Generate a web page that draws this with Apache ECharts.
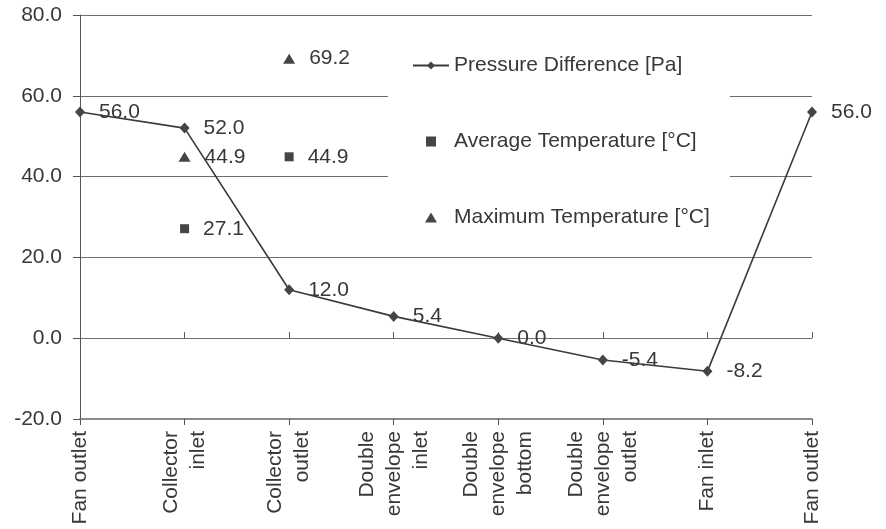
<!DOCTYPE html>
<html>
<head>
<meta charset="utf-8">
<script src="https://cdn.jsdelivr.net/npm/echarts@6/dist/echarts.min.js"></script>
<style>
html,body{margin:0;padding:0;background:#fff;}
#chart{width:886px;height:529px;}
</style>
</head>
<body>
<div id="chart"></div>
<script>
const categories = ['Fan outlet', 'Collector\ninlet', 'Collector\noutlet', 'Double\nenvelope\ninlet', 'Double\nenvelope\nbottom', 'Double\nenvelope\noutlet', 'Fan inlet', 'Fan outlet'];
const pressureDiff = [56.0, 52.0, 12.0, 5.4, 0.0, -5.4, -8.2, 56.0];
const avgTemp = [null, 27.1, 44.9, null, null, null, null, null];
const maxTemp = [null, 44.9, 69.2, null, null, null, null, null];
const yMin = -20, yMax = 80, yStep = 20;

const FONT = 'Liberation Sans';
const TXT = '#383838';
const MARK = '#454545';

const chart = echarts.init(document.getElementById('chart'), null, {renderer: 'canvas'});
const labelCfg = {
  show: true, position: 'right', distance: 14,
  color: TXT, fontSize: 21, fontFamily: FONT,
  formatter: p => (p.value == null ? '' : Number(p.value).toFixed(1))
};
chart.setOption({
  animation: false,
  backgroundColor: '#fff',
  textStyle: {fontFamily: FONT},
  grid: {left: 80, right: 74, top: 15, bottom: 110, containLabel: false},
  xAxis: [{
    type: 'category', data: categories, boundaryGap: false,
    axisLine: {show: true, onZero: false, lineStyle: {color: '#8a8a8a', width: 2}},
    axisTick: {show: true, alignWithLabel: true, length: 6, lineStyle: {color: '#555', width: 1}},
    axisLabel: {rotate: 90, interval: 0, margin: 12, fontSize: 21, lineHeight: 27, color: TXT, fontFamily: FONT},
    splitLine: {show: false}
  }, {
    type: 'category', data: categories, boundaryGap: false, position: 'bottom', gridIndex: 0,
    axisLine: {show: false},
    axisTick: {show: true, inside: true, length: 6, lineStyle: {color: '#555', width: 1}},
    axisLabel: {show: false},
    splitLine: {show: false}
  }],
  yAxis: {
    type: 'value', min: yMin, max: yMax, interval: yStep,
    axisLine: {show: true, onZero: false, lineStyle: {color: '#555', width: 1}},
    axisTick: {show: true, length: 7, lineStyle: {color: '#555'}},
    axisLabel: {margin: 18, fontSize: 21, color: TXT, fontFamily: FONT, formatter: v => v.toFixed(1)},
    splitLine: {show: true, lineStyle: {color: '#6e6e6e', width: 1}}
  },
  legend: {
    orient: 'vertical', left: 388, top: 31,
    padding: [24, 20, 15, 24],
    itemGap: 55, itemWidth: 36, itemHeight: 10,
    backgroundColor: '#fff',
    symbolKeepAspect: true,
    selectedMode: false,
    textStyle: {fontSize: 21, color: TXT, fontFamily: FONT},
    data: [
      {name: 'Pressure Difference [Pa]'},
      {name: 'Average Temperature [\u00B0C]', icon: 'path://M0,0L9,0L9,9L0,9Z'},
      {name: 'Maximum Temperature [\u00B0C]', icon: 'path://M6,0L12,10L0,10Z'}
    ]
  },
  series: [{
    name: 'Pressure Difference [Pa]', type: 'line', data: pressureDiff,
    symbol: 'diamond', symbolSize: [10, 11], showAllSymbol: true,
    lineStyle: {color: '#3a3a3a', width: 1.6},
    itemStyle: {color: MARK, opacity: 1},
    label: labelCfg, z: 3
  }, {
    name: 'Average Temperature [\u00B0C]', type: 'scatter', data: avgTemp,
    symbol: 'rect', symbolSize: 9,
    itemStyle: {color: MARK, opacity: 1},
    label: labelCfg
  }, {
    name: 'Maximum Temperature [\u00B0C]', type: 'scatter', data: maxTemp,
    symbol: 'triangle', symbolSize: [12, 10],
    itemStyle: {color: MARK, opacity: 1},
    label: labelCfg
  }]
});
</script>
</body>
</html>
